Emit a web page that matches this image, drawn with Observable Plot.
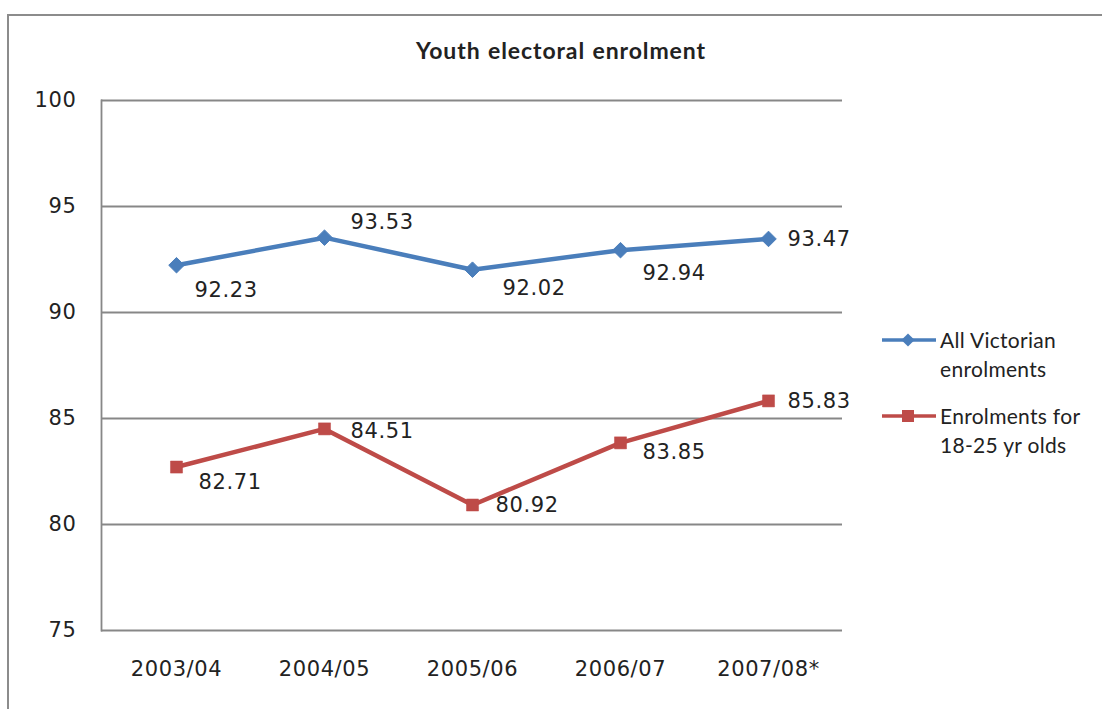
<!DOCTYPE html>
<html>
<head>
<meta charset="utf-8">
<script src="https://cdn.jsdelivr.net/npm/d3@7"></script>
<script src="https://cdn.jsdelivr.net/npm/@observablehq/plot@0.6"></script>
<style>
  html, body { margin: 0; padding: 0; background: #fff; }
  #wrap { position: relative; width: 1102px; height: 709px; overflow: hidden; }
  #border { position: absolute; left: 7px; top: 14px; width: 1200px; height: 800px; border-top: 2px solid #8c8c8c; border-left: 2px solid #8c8c8c; }
  #title { position: absolute; left: 0; width: 1122px; top: 36px; text-align: center; font-family: Lato, "Open Sans", sans-serif; font-weight: bold; font-size: 23px; letter-spacing: 0.9px; word-spacing: 1px; color: #222; }
  #chart { position: absolute; left: 0; top: 0; }
  .leg { position: absolute; left: 880px; font-family: Lato, "Open Sans", sans-serif; font-size: 21px; letter-spacing: 0.3px; color: #222; }
  .leg svg { position: absolute; left: 0; top: 0; }
  .leg div { position: absolute; left: 60px; top: 0; line-height: 29px; white-space: nowrap; }
  #chart text { letter-spacing: 0.6px; }
</style>
</head>
<body>
<div id="wrap">
  <div id="border"></div>
  <div id="chart"></div>
  <div id="title">Youth electoral enrolment</div>
  <div class="leg" id="leg1" style="top:325px"></div>
  <div class="leg" id="leg2" style="top:401px"></div>
</div>
<script>
// ---- data ----
const categories = ["2003/04", "2004/05", "2005/06", "2006/07", "2007/08*"];
const allVictorian = [92.23, 93.53, 92.02, 92.94, 93.47];
const youth18to25 = [82.71, 84.51, 80.92, 83.85, 85.83];
const yTicks = [75, 80, 85, 90, 95, 100];
const seriesNames = ["All Victorian enrolments", "Enrolments for 18-25 yr olds"];

// label placement (Excel-style per-point label offsets)
const blueLabelDy = [25, -15, 19, 23, 0];
const redLabelDy = [15, 2, 0, 9, 0];
const blueLabelDx = [18, 26, 30, 22, 19];
const redLabelDx = [22, 26, 23, 22, 19];

const blue = "#4A7EBB";
const red = "#BE4B48";
const grid = "#878787";

const blueData = categories.map((c, i) => ({cat: c, v: allVictorian[i], dx: blueLabelDx[i], dy: blueLabelDy[i]}));
const redData = categories.map((c, i) => ({cat: c, v: youth18to25[i], dx: redLabelDx[i], dy: redLabelDy[i]}));

const labelMarks = (data) => data.map(d => Plot.text([d], {
  x: "cat", y: "v", text: d => d.v.toFixed(2), dx: d.dx, dy: d.dy,
  textAnchor: "start", fill: "#222", fontSize: 21, fontFamily: "DejaVu Sans, sans-serif"
}));

const chart = Plot.plot({
  width: 1102,
  height: 709,
  marginLeft: 101,
  marginRight: 260,
  marginTop: 100,
  marginBottom: 79,
  style: {background: "transparent", fontFamily: "DejaVu Sans, sans-serif", fontSize: "21px", color: "#222"},
  x: {type: "point", domain: categories, padding: 0.5, label: null},
  y: {domain: [75, 100], ticks: yTicks, label: null},
  marks: [
    Plot.ruleY(yTicks, {stroke: grid, strokeWidth: 1.8, strokeOpacity: 1}),
    Plot.frame({anchor: "left", stroke: grid, strokeWidth: 1.8}),
    Plot.axisY({ticks: yTicks, tickSize: 0, tickPadding: 25, fontSize: 21, label: null}),
    Plot.axisX({tickSize: 0, tickPadding: 31, fontSize: 21, label: null}),
    Plot.line(blueData, {x: "cat", y: "v", stroke: blue, strokeWidth: 4.5}),
    Plot.dot(blueData, {x: "cat", y: "v", symbol: "diamond2", r: 7, fill: blue, stroke: blue, strokeWidth: 1}),
    Plot.line(redData, {x: "cat", y: "v", stroke: red, strokeWidth: 4.5}),
    Plot.dot(redData, {x: "cat", y: "v", symbol: "square", r: 6.8, fill: red, stroke: red, strokeWidth: 0.5}),
    ...labelMarks(blueData),
    ...labelMarks(redData)
  ]
});
document.getElementById("chart").appendChild(chart);

// legend
function legendItem(el, name, color, shape) {
  let l1, l2;
  if (name === seriesNames[0]) { l1 = "All Victorian"; l2 = "enrolments"; }
  else { l1 = "Enrolments for"; l2 = "18-25 yr olds"; }
  const svg = d3.create("svg").attr("width", 60).attr("height", 30);
  svg.append("line").attr("x1", 2).attr("x2", 56).attr("y1", 15).attr("y2", 15)
    .attr("stroke", color).attr("stroke-width", 3.5);
  if (shape === "diamond") {
    svg.append("path").attr("d", d3.symbol(d3.symbolDiamond2, 110)()).attr("transform", "translate(28,15)").attr("fill", color);
  } else {
    svg.append("rect").attr("x", 22).attr("y", 9).attr("width", 12).attr("height", 12).attr("fill", color);
  }
  el.appendChild(svg.node());
  const div = document.createElement("div");
  div.innerHTML = l1 + "<br>" + l2;
  el.appendChild(div);
}
legendItem(document.getElementById("leg1"), seriesNames[0], blue, "diamond");
legendItem(document.getElementById("leg2"), seriesNames[1], red, "square");
</script>
</body>
</html>
